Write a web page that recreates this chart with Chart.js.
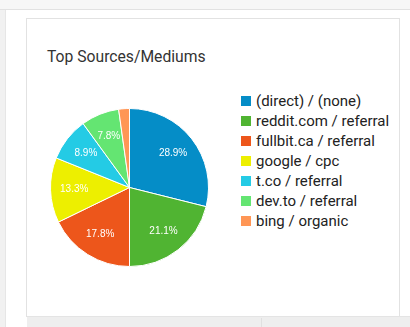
<!DOCTYPE html>
<html lang="en">
<head>
  <meta charset="UTF-8">
  <title>Top Sources/Mediums</title>
  <script src="https://cdn.jsdelivr.net/npm/chart.js"></script>
  <style>
    html, body { margin: 0; padding: 0; }
    body { width: 410px; height: 327px; position: relative; overflow: hidden; background: #fff; font-family: Roboto, "Liberation Sans", Arial, sans-serif; }
    .topbar { position: absolute; left: 0; top: 0; width: 410px; height: 9px; background: #f7f7f7; border-bottom: 1px solid #e2e2e2; }
    .leftbar { position: absolute; left: 0; top: 10px; width: 5px; height: 317px; background: #f1f1f1; border-right: 1px solid #e6e6e6; }
    .card { position: absolute; left: 26px; top: 18px; width: 372px; height: 298px; border: 1px solid #e2e2e2; border-bottom: none; background: #fff; }
    .footer { position: absolute; left: 27px; top: 316px; width: 383px; height: 11px; background: #eeeeee; border-top: 1px solid #e4e4e4; }
    .footer .div { position: absolute; left: 234px; top: 1px; width: 1px; height: 10px; background: #e0e0e0; }
    h2 { position: absolute; left: 47px; top: 47px; margin: 0; font-size: 15.7px; font-weight: 400; color: #333; white-space: nowrap; }
    #pieWrap { position: absolute; left: 44px; top: 102px; width: 171px; height: 171px; }
    #legend { position: absolute; left: 241px; top: 91px; margin: 0; padding: 0; list-style: none; font-size: 15px; color: #222; }
    #legend li { height: 20px; line-height: 20px; white-space: nowrap; }
    #legend span { display: inline-block; width: 10px; height: 10px; margin-right: 5px; vertical-align: -0px; }
  </style>
</head>
<body>
  <div class="topbar"></div>
  <div class="leftbar"></div>
  <div class="card"></div>
  <div class="footer"><div class="div"></div></div>
  <h2>Top Sources/Mediums</h2>
  <div id="pieWrap"><canvas id="grafico" width="171" height="171"></canvas></div>
  <ul id="legend"></ul>
  <script>
    const fontes = ['(direct) / (none)', 'reddit.com / referral', 'fullbit.ca / referral', 'google / cpc', 't.co / referral', 'dev.to / referral', 'bing / organic'];
    const percentuais = [28.9, 21.1, 17.8, 13.3, 8.9, 7.8, 2.2];
    const cores = ['#058dc7', '#50b432', '#ed561b', '#edef00', '#24cbe5', '#64e572', '#ff9655'];

    // legenda em html
    const leg = document.getElementById('legend');
    fontes.forEach((f, i) => {
      leg.innerHTML += `<li><span style="background:${cores[i]}"></span>${f}</li>`;
    });

    // rótulos de porcentagem dentro das fatias
    const rotulos = {
      id: 'rotulos',
      afterDatasetsDraw(chart) {
        const ctx = chart.ctx;
        const meta = chart.getDatasetMeta(0);
        ctx.save();
        ctx.fillStyle = '#fff';
        ctx.font = '10px "Liberation Sans", Arial, sans-serif';
        ctx.textAlign = 'center';
        ctx.textBaseline = 'middle';
        meta.data.forEach((arc, i) => {
          const v = chart.data.datasets[0].data[i];
          if (v < 5) return;
          const p = arc.getProps(['x', 'y', 'startAngle', 'endAngle', 'outerRadius'], true);
          const a = (p.startAngle + p.endAngle) / 2;
          const r = p.outerRadius * 0.7;
          ctx.fillText(v.toFixed(1) + '%', p.x + Math.cos(a) * r, p.y + Math.sin(a) * r);
        });
        ctx.restore();
      }
    };

    new Chart(document.getElementById('grafico'), {
      type: 'pie',
      data: {
        labels: fontes,
        datasets: [{
          data: percentuais,
          backgroundColor: cores,
          borderColor: '#fff',
          borderWidth: 1
        }]
      },
      options: {
        responsive: false,
        animation: false,
        layout: { padding: 6 },
        plugins: { legend: { display: false }, tooltip: { enabled: false } }
      },
      plugins: [rotulos]
    });
  </script>
</body>
</html>
